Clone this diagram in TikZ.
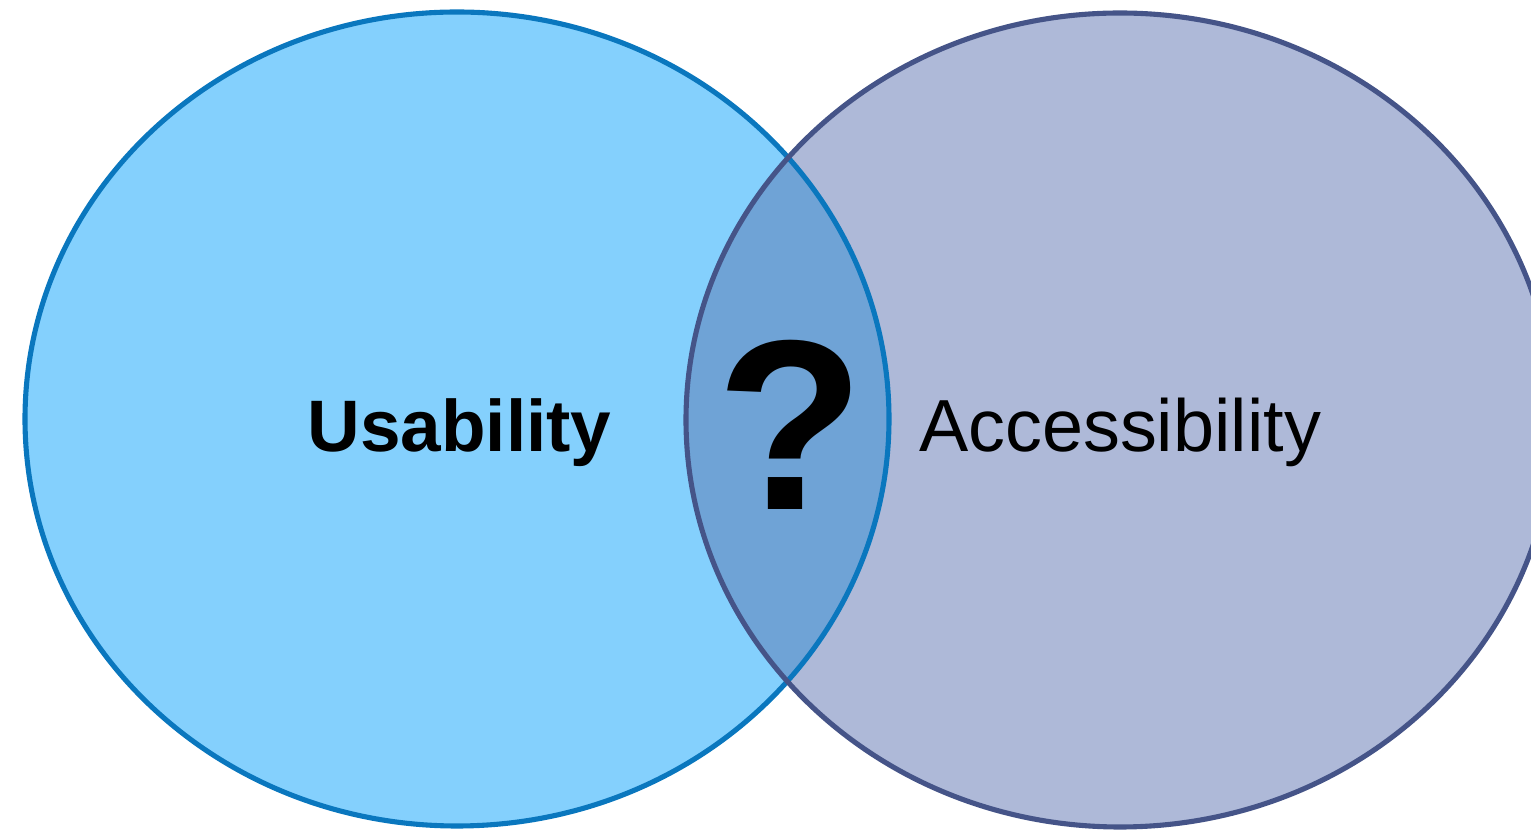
\documentclass[tikz,border=0pt]{standalone}
\usepackage{fontspec}
\setmainfont{Liberation Sans}
\usepackage{tikz}
\usetikzlibrary{positioning}
\definecolor{usefill}{HTML}{84D0FD}
\definecolor{usedraw}{HTML}{0A77BE}
\definecolor{accfill}{HTML}{AEB9D8}
\definecolor{accdraw}{HTML}{455488}
\definecolor{bothfill}{HTML}{6FA3D6}

\begin{document}
\begin{tikzpicture}[scale=1,
    vlabel/.style={anchor=base,inner sep=0pt,text=black}]
    \useasboundingbox(0,0) rectangle (30.62,16.6);
    \clip(0,0) rectangle (30.62,16.6);

    \fill[usefill](9.14,8.22) ellipse [x radius=8.64,y radius=8.14];
    \fill[accfill](22.4,8.2) ellipse [x radius=8.68,y radius=8.14];
    \begin{scope}
      \clip(9.14,8.22) ellipse [x radius=8.64,y radius=8.14];
      \fill[bothfill](22.4,8.2) ellipse [x radius=8.68,y radius=8.14];
    \end{scope}

    \draw[usedraw,line width=2.9pt](9.14,8.22) ellipse [x radius=8.64,y radius=8.14];
    \draw[accdraw,line width=2.9pt](22.4,8.2) ellipse [x radius=8.68,y radius=8.14];

    \node[vlabel](usab) at (9.19,7.56){\fontsize{41.5}{50}\selectfont\bfseries Usability};
    \node[vlabel](acc) at (22.4,7.56){\fontsize{42}{50}\selectfont Accessibility};
    \node[vlabel](qmark) at (15.82,6.4){\fontsize{138}{150}\selectfont\bfseries ?};
\end{tikzpicture}
\end{document}
